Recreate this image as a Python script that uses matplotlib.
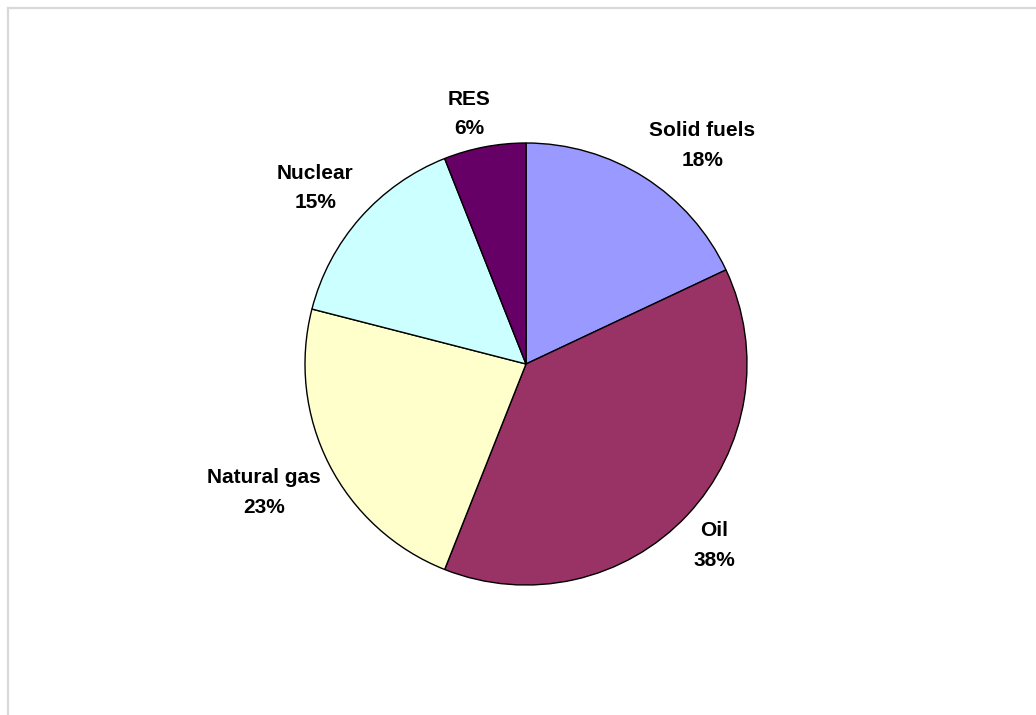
import matplotlib
matplotlib.use("Agg")
import matplotlib.pyplot as plt
from matplotlib.lines import Line2D
import numpy as np

# energy mix shares (%)
sources = ["Solid fuels", "Oil", "Natural gas", "Nuclear", "RES"]
shares = [18, 38, 23, 15, 6]
colors = ["#9999FF", "#993366", "#FFFFCC", "#CCFFFF", "#660066"]

plt.rcParams['font.family'] = ['Liberation Sans', 'DejaVu Sans']

W, H = 1036, 715
fig = plt.figure(figsize=(W / 100, H / 100), dpi=100)

# pie centre / radius in pixels
cx, cy, r = 526, 364, 221
ax = fig.add_axes([(cx - r) / W, (H - cy - r) / H, 2 * r / W, 2 * r / H])

wedges, _ = ax.pie(shares, colors=colors, startangle=90, counterclock=False,
                   wedgeprops=dict(edgecolor="black", linewidth=1.0))
ax.set_xlim(-1, 1)
ax.set_ylim(-1, 1)
ax.set_aspect("equal")

# Excel-like label placement: the box corner nearest the pie sits on the
# ray through the slice middle, slightly outside the rim
texts = []
for w, name, val in zip(wedges, sources, shares):
    ang = np.deg2rad((w.theta1 + w.theta2) / 2)
    t = ax.text(0, 0, f"{name}\n{val}%", ha="center", va="center",
                fontsize=15, fontweight="bold", linespacing=1.7,
                multialignment="center")
    texts.append((t, ang))

fig.canvas.draw()
rend = fig.canvas.get_renderer()
gap = 1.04
for t, ang in texts:
    bb = t.get_window_extent(rend)
    bw, bh = bb.width / r, bb.height / r  # in data units
    sx = np.clip(np.cos(ang) * 3.5, -1, 1)
    sy = np.clip(np.sin(ang) * 3.5, -1, 1)
    px, py = gap * np.cos(ang), gap * np.sin(ang)
    t.set_position((px + sx * bw / 2, py + sy * bh / 2))

# light grey frame (top and left edges visible)
fig.add_artist(Line2D([7.5 / W, 1], [1 - 7.5 / H, 1 - 7.5 / H],
                      transform=fig.transFigure, color="#d9d9d9", lw=1.6))
fig.add_artist(Line2D([7.5 / W, 7.5 / W], [0, 1 - 7.5 / H],
                      transform=fig.transFigure, color="#d9d9d9", lw=1.6))

fig.savefig("out.png", dpi=100)
